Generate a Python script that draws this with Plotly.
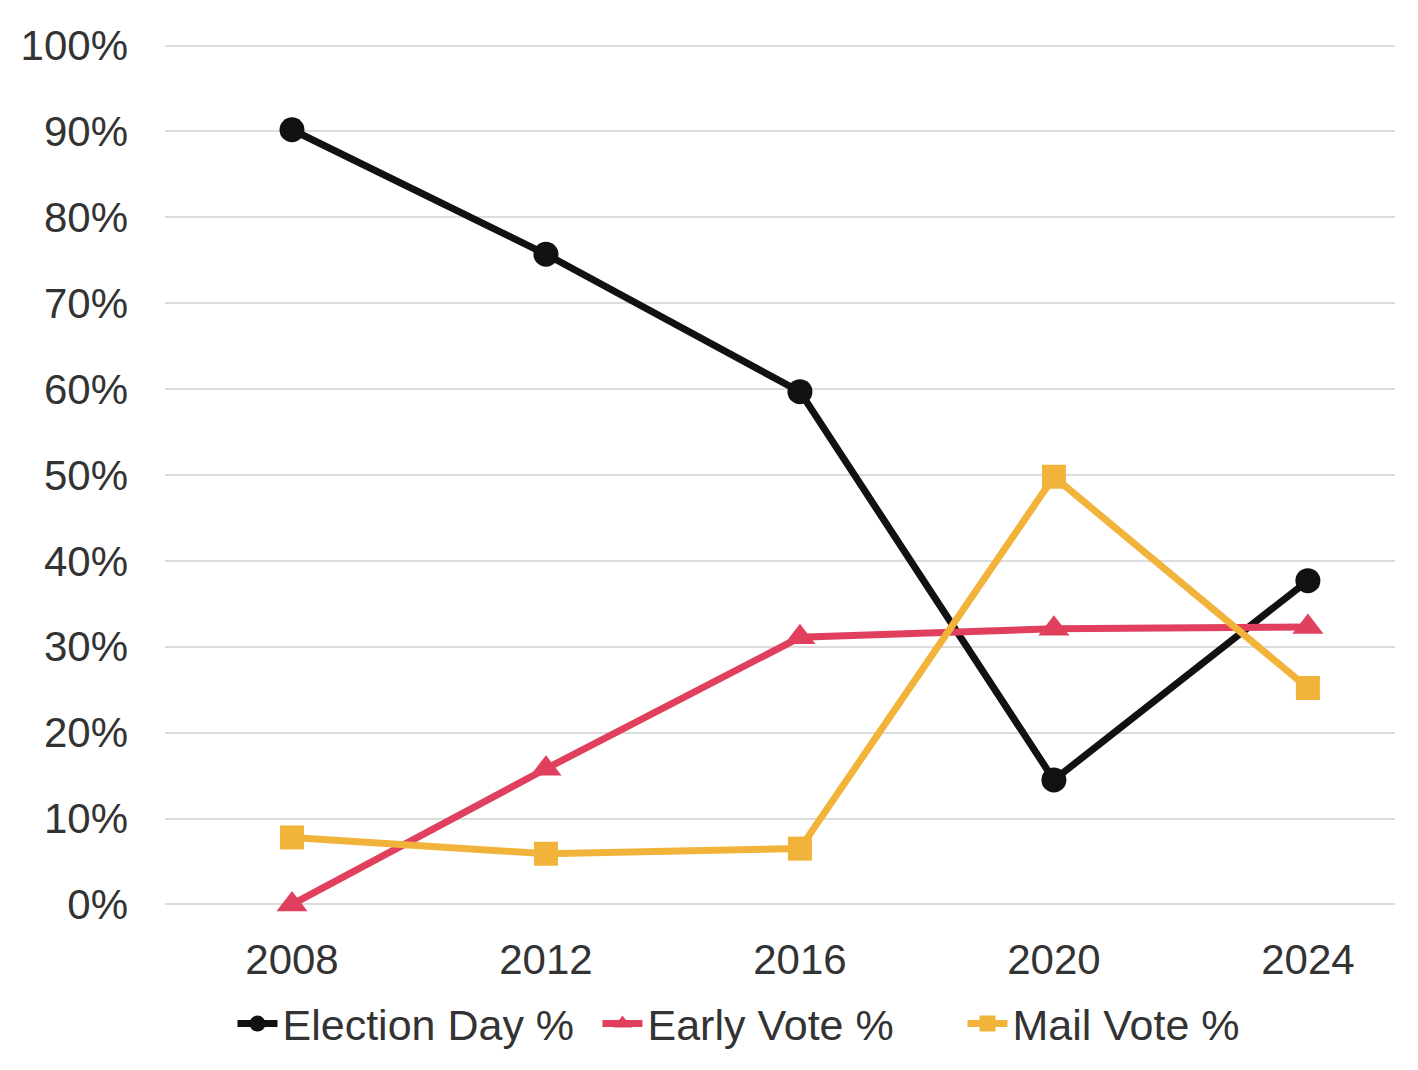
import plotly.graph_objects as go

# Share of ballots cast by voting method, by election year
years = ["2008", "2012", "2016", "2020", "2024"]
election_day = [0.902, 0.757, 0.597, 0.145, 0.377]
early_vote = [0.0, 0.158, 0.311, 0.321, 0.323]
mail_vote = [0.078, 0.059, 0.065, 0.498, 0.252]
y_ticks = [0, 0.1, 0.2, 0.3, 0.4, 0.5, 0.6, 0.7, 0.8, 0.9, 1.0]

x_pos = list(range(len(years)))

series = [
    ("Election Day %", election_day, "#111111", "circle", 25),
    ("Early Vote %", early_vote, "#E0405E", "triangle-up", 27),
    ("Mail Vote %", mail_vote, "#F2B33A", "square", 24),
]

fig = go.Figure()
for name, values, color, symbol, size in series:
    fig.add_trace(go.Scatter(
        x=x_pos, y=values, name=name, mode="lines+markers",
        line=dict(color=color, width=7),
        marker=dict(symbol=symbol, size=size, color=color),
        cliponaxis=False,
    ))

fig.update_layout(
    width=1418, height=1070,
    margin=dict(l=165, r=23, t=43, b=155),
    paper_bgcolor="white", plot_bgcolor="white",
    font=dict(family="Liberation Sans, Arial, sans-serif", size=42, color="#333333"),
    showlegend=True,
    legend=dict(orientation="h", x=0.5, xanchor="center", y=-0.135, yanchor="middle",
                font=dict(size=43, color="#333333"), itemwidth=40,
                entrywidth=310, entrywidthmode="pixels",
                bgcolor="rgba(0,0,0,0)", traceorder="normal"),
    xaxis=dict(range=[-0.5, 4.343], tickvals=x_pos, ticktext=years,
               showgrid=False, zeroline=False, showline=False, ticks="",
               ticklabelstandoff=24),
    yaxis=dict(range=[-0.003, 1.003], tickvals=y_ticks, tickformat=".0%",
               showgrid=True, gridcolor="#dcdcdc", gridwidth=1.5,
               zeroline=False, showline=False, ticks="",
               ticklabelstandoff=36),
)

fig.write_html("out.html")
